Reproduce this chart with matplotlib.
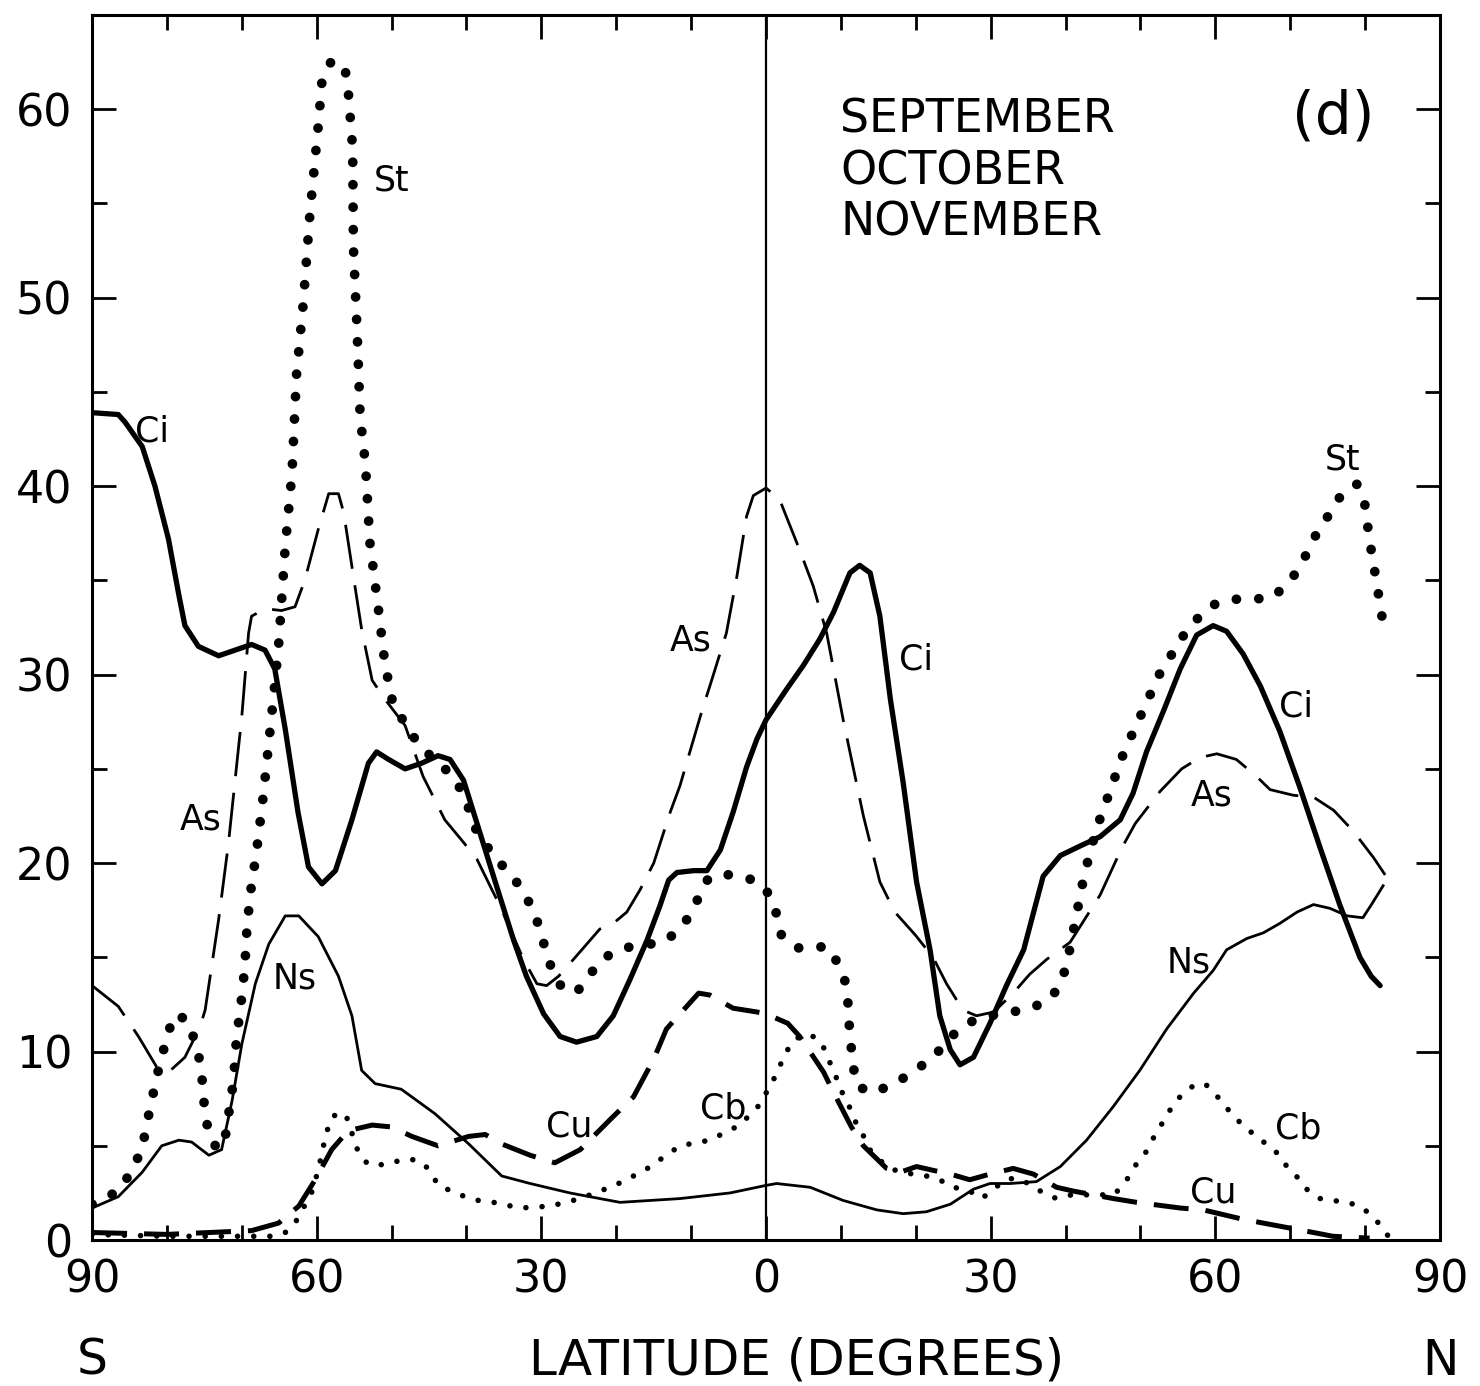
import numpy as np
import matplotlib.pyplot as plt
from matplotlib.ticker import MultipleLocator, FuncFormatter

# (latitude, percent); south latitudes negative
ci_points = [
    (-90, 43.9), (-86.5, 43.8), (-85.6, 43.4), (-83.3, 42.1), (-81.6, 40.0), (-79.8, 37.2),
    (-78.4, 34.2), (-77.6, 32.6), (-75.8, 31.5), (-73.1, 31.0), (-70.9, 31.3), (-68.7, 31.6),
    (-66.9, 31.3), (-65.6, 30.3), (-64.2, 27.1), (-62.5, 22.7), (-61.1, 19.8), (-59.3, 18.9),
    (-57.5, 19.6), (-55.3, 22.3), (-53.1, 25.3), (-52.0, 25.9), (-50.4, 25.5), (-48.2, 25.0),
    (-46.0, 25.3), (-43.8, 25.7), (-42.2, 25.5), (-40.4, 24.4), (-38.2, 21.6), (-36.0, 18.8),
    (-33.7, 15.9), (-32.0, 14.0), (-29.7, 12.0), (-27.5, 10.8), (-25.3, 10.5), (-22.6, 10.8),
    (-20.4, 11.9), (-18.2, 13.8), (-15.9, 15.9), (-14.2, 17.7), (-13.0, 19.1), (-11.9, 19.5),
    (-9.7, 19.6), (-7.9, 19.6), (-6.1, 20.7), (-4.4, 22.7), (-2.6, 25.1), (-1.2, 26.6),
    (0, 27.6), (2.7, 29.2), (5.0, 30.5), (7.2, 31.9), (9.0, 33.3), (11.2, 35.4), (12.5, 35.8),
    (13.9, 35.4), (15.2, 33.1), (16.6, 28.7), (18.3, 24.3), (20.1, 19.0), (21.9, 15.4),
    (23.2, 11.9), (24.6, 10.1), (25.9, 9.3), (27.7, 9.7), (29.9, 11.5), (32.1, 13.5),
    (34.4, 15.4), (37.0, 19.3), (39.3, 20.4), (41.9, 20.9), (44.6, 21.4), (47.3, 22.3),
    (49.0, 23.7), (50.8, 25.9), (53.1, 28.1), (55.3, 30.3), (57.5, 32.1), (59.7, 32.6),
    (61.5, 32.3), (63.7, 31.1), (66.0, 29.4), (68.6, 27.0), (71.3, 24.0), (74.0, 20.8),
    (76.6, 17.8), (79.3, 15.0), (80.8, 14.0), (82.0, 13.5),
]

as_points = [
    (-90, 13.5), (-86.5, 12.4), (-83.8, 10.8), (-81.4, 9.2), (-79.8, 8.9), (-77.6, 9.7),
    (-75.6, 11.3), (-74.9, 12.2), (-73.1, 17.0), (-71.8, 21.0), (-70.0, 27.8), (-69.1, 32.2),
    (-68.7, 33.1), (-66.9, 33.5), (-64.7, 33.4), (-62.9, 33.6), (-61.6, 35.0), (-59.8, 37.7),
    (-58.4, 39.6), (-57.1, 39.6), (-56.4, 38.6), (-54.9, 34.7), (-54.0, 32.4), (-52.6, 29.7),
    (-50.9, 28.7), (-48.2, 27.3), (-45.8, 24.6), (-42.9, 22.3), (-40.4, 21.1), (-38.6, 20.2),
    (-35.5, 17.7), (-32.4, 14.9), (-30.6, 13.6), (-29.3, 13.5), (-27.7, 14.0), (-25.7, 14.9),
    (-22.2, 16.5), (-20.4, 16.8), (-18.6, 17.4), (-16.8, 18.6), (-15.0, 20.0), (-12.8, 22.7),
    (-11.5, 24.1), (-10.1, 26.0), (-8.4, 28.3), (-7.5, 29.4), (-5.3, 32.2), (-3.9, 35.2),
    (-2.6, 38.4), (-1.7, 39.5), (0, 39.9), (1.8, 39.3), (4.5, 36.6), (6.3, 34.7), (8.1, 32.2),
    (10.3, 27.6), (13.0, 22.5), (15.2, 19.0), (17.2, 17.4), (19.9, 16.2), (22.3, 15.0),
    (24.1, 13.6), (26.3, 12.2), (28.1, 11.9), (30.4, 12.1), (33.0, 13.1), (35.2, 14.1),
    (37.5, 14.9), (40.6, 15.8), (44.6, 18.3), (47.5, 20.8), (49.3, 22.1), (52.6, 23.8),
    (55.5, 25.0), (57.9, 25.6), (60.2, 25.8), (62.8, 25.5), (65.5, 24.6), (67.3, 23.9),
    (70.4, 23.6), (73.1, 23.5), (75.8, 22.8), (78.4, 21.7), (81.1, 20.3), (83.3, 19.0),
]

st_points = [
    (-90, 1.9), (-87.8, 2.3), (-86.0, 2.8), (-84.5, 3.9), (-83.3, 4.8), (-82.8, 6.0),
    (-82.0, 7.4), (-81.6, 8.3), (-80.5, 10.0), (-79.8, 11.1), (-78.7, 12.0), (-77.2, 11.6),
    (-76.5, 10.8), (-75.8, 9.9), (-75.3, 8.5), (-74.9, 6.6), (-74.4, 5.7), (-73.3, 4.8),
    (-72.2, 5.5), (-71.6, 7.1), (-71.1, 8.5), (-70.7, 10.8), (-70.2, 12.2), (-69.6, 14.5),
    (-69.3, 16.7), (-68.7, 18.9), (-68.1, 20.4), (-67.1, 23.7), (-65.8, 28.7), (-65.1, 31.5),
    (-64.2, 36.8), (-63.3, 40.7), (-62.7, 45.9), (-61.8, 49.7), (-60.9, 54.5), (-59.8, 59.1),
    (-59.3, 61.5), (-58.0, 62.6), (-56.2, 62.1), (-55.8, 61.0), (-55.2, 57.9), (-55.1, 52.7),
    (-54.6, 48.2), (-54.2, 43.7), (-53.5, 41.2), (-52.9, 37.0), (-51.8, 33.6), (-50.9, 30.6),
    (-49.8, 28.4), (-46.9, 26.6), (-45.1, 25.8), (-42.6, 24.9), (-40.9, 24.0), (-39.7, 22.9),
    (-38.9, 21.9), (-37.3, 20.9), (-35.5, 20.0), (-33.5, 19.1), (-32.0, 18.2), (-30.8, 17.2),
    (-29.9, 16.1), (-29.3, 15.1), (-28.4, 14.2), (-27.0, 13.2), (-25.0, 13.3), (-23.5, 14.1),
    (-21.9, 14.9), (-19.7, 15.4), (-17.7, 15.6), (-15.5, 15.7), (-13.3, 15.9), (-11.3, 16.6),
    (-9.9, 17.4), (-9.0, 18.2), (-7.7, 19.2), (-5.5, 19.4), (-3.3, 19.3), (-1.0, 19.0),
    (0.5, 18.3), (1.4, 17.3), (2.1, 16.1), (4.3, 15.5), (6.3, 15.6), (8.5, 15.5), (9.4, 14.8),
    (10.0, 14.2), (10.5, 13.8), (10.9, 12.9), (11.0, 11.9), (11.2, 11.0), (11.4, 10.1),
    (11.7, 9.1), (12.1, 8.2), (14.1, 7.8), (16.6, 8.2), (18.8, 8.7), (20.6, 9.2), (22.3, 9.7),
    (25.5, 11.1), (27.5, 11.6), (29.9, 11.9), (32.8, 12.1), (35.5, 12.3), (38.2, 12.9),
    (39.5, 13.8), (40.2, 14.7), (42.5, 19.4), (44.1, 21.8), (46.0, 23.9), (47.8, 25.9),
    (50.0, 27.8), (52.5, 30.0), (55.6, 32.0), (57.4, 32.9), (59.7, 33.7), (62.3, 34.0),
    (65.0, 34.0), (67.7, 34.1), (69.5, 34.8), (71.2, 35.6), (73.1, 37.2), (75.5, 38.7),
    (76.9, 39.6), (78.9, 40.1), (79.9, 39.2), (80.6, 37.1), (81.4, 35.2), (82.2, 33.2),
    (82.6, 32.1),
]

ns_points = [
    (-90, 1.7), (-86.5, 2.3), (-83.3, 3.6), (-80.7, 5.0), (-78.4, 5.3), (-76.7, 5.2),
    (-74.4, 4.5), (-72.7, 4.8), (-71.3, 7.4), (-70.0, 10.4), (-68.2, 13.6), (-66.4, 15.7),
    (-64.2, 17.2), (-62.4, 17.2), (-59.8, 16.1), (-57.1, 14.0), (-55.3, 11.9), (-54.0, 9.0),
    (-52.2, 8.3), (-48.7, 8.0), (-44.2, 6.7), (-39.7, 5.1), (-35.3, 3.4), (-31.5, 3.0),
    (-26.2, 2.5), (-19.5, 2.0), (-11.5, 2.2), (-4.8, 2.5), (0, 2.9), (1.4, 3.0), (5.9, 2.8),
    (10.3, 2.1), (14.8, 1.6), (18.3, 1.4), (21.4, 1.5), (24.6, 1.9), (27.7, 2.7), (29.9, 3.0),
    (32.6, 3.0), (36.1, 3.1), (39.3, 3.9), (42.8, 5.3), (46.4, 7.1), (49.9, 9.0), (53.5, 11.2),
    (57.1, 13.1), (59.7, 14.3), (61.5, 15.4), (64.2, 16.0), (66.4, 16.3), (68.6, 16.8),
    (70.9, 17.4), (73.1, 17.8), (75.3, 17.6), (77.6, 17.2), (79.7, 17.1), (81.0, 17.9),
    (82.4, 18.8),
]

cu_points = [
    (-90, 0.4), (-80, 0.3), (-68.7, 0.5), (-65.1, 0.9), (-62.4, 1.8), (-60.2, 3.2),
    (-58.0, 4.8), (-55.8, 5.8), (-52.6, 6.1), (-50.0, 6.0), (-47.3, 5.5), (-43.8, 5.0),
    (-39.7, 5.5), (-37.5, 5.6), (-35.3, 5.1), (-31.5, 4.5), (-28.2, 4.1), (-24.8, 4.8),
    (-20.8, 6.4), (-17.7, 7.6), (-15.0, 9.6), (-13.3, 11.2), (-11.5, 12.0), (-9.0, 13.1),
    (-7.5, 13.0), (-4.4, 12.3), (-1.2, 12.1), (0, 12.0), (2.9, 11.5), (4.5, 10.8), (7.7, 8.9),
    (8.8, 8.0), (11.4, 6.0), (13.0, 5.0), (16.1, 3.8), (17.9, 3.6), (20.1, 3.9), (22.3, 3.7),
    (24.6, 3.5), (27.2, 3.2), (29.9, 3.5), (33.0, 3.8), (35.7, 3.5), (38.8, 2.8), (41.0, 2.6),
    (43.7, 2.4), (46.4, 2.2), (49.5, 2.0), (55.3, 1.7), (58.4, 1.6), (63.7, 1.1), (66.4, 0.9),
    (73.1, 0.4), (75.7, 0.2), (80.6, 0.1),
]

cb_points = [
    (-90, 0.3), (-80, 0.2), (-70, 0.2), (-66, 0.2), (-64.2, 0.4), (-62.9, 0.9), (-60.7, 2.5),
    (-59.8, 3.7), (-59.1, 5.0), (-58.7, 5.7), (-58.0, 6.5), (-56.9, 6.8), (-55.8, 6.4),
    (-54.9, 5.1), (-54.2, 4.5), (-53.1, 4.0), (-50.9, 4.0), (-49.1, 4.2), (-47.5, 4.3),
    (-45.8, 4.1), (-44.6, 3.5), (-43.8, 2.9), (-42.0, 2.6), (-40.2, 2.3), (-38.4, 2.1),
    (-36.4, 2.0), (-32.8, 1.7), (-28.8, 1.8), (-24.8, 2.2), (-20.2, 2.9), (-16.2, 3.7),
    (-11.5, 5.0), (-7.5, 5.3), (-3.5, 6.1), (-0.8, 7.2), (0, 7.8), (0.8, 8.3), (1.6, 9.1),
    (2.5, 9.7), (3.2, 10.4), (4.5, 10.8), (5.9, 10.9), (7.4, 10.5), (8.1, 9.8), (9.0, 9.0),
    (9.6, 8.4), (10.3, 7.7), (11.0, 7.2), (11.9, 6.3), (12.8, 5.8), (13.4, 5.0), (14.3, 4.6),
    (16.1, 3.9), (17.9, 3.6), (19.7, 3.5), (21.4, 3.4), (23.2, 3.2), (24.8, 2.8), (26.8, 2.7),
    (28.8, 2.2), (30.4, 2.7), (31.9, 3.2), (33.5, 3.3), (35.5, 2.9), (37.0, 2.5), (38.8, 2.2),
    (40.8, 2.4), (42.8, 2.4), (44.6, 2.4), (46.4, 2.4), (47.7, 2.9), (48.8, 3.6), (49.7, 4.2),
    (50.8, 4.7), (51.7, 5.4), (52.6, 6.0), (53.5, 6.6), (54.4, 7.2), (55.5, 7.7), (57.1, 8.2),
    (58.6, 8.3), (59.9, 7.8), (61.1, 7.2), (62.4, 6.6), (63.9, 6.0), (65.5, 5.5), (67.1, 5.0),
    (68.6, 4.5), (69.7, 3.8), (71.3, 3.2), (72.4, 2.6), (74.0, 2.2), (75.7, 2.1), (77.6, 2.0),
    (79.3, 1.8), (80.9, 1.3), (82.0, 0.8), (83.1, 0.2),
]

# label text, latitude, value
curve_labels = [
    ("Ci", -82.0, 42.9), ("St", -50.0, 56.2), ("As", -75.5, 22.3), ("Ns", -63.0, 13.9),
    ("Cu", -26.3, 6.0), ("Cb", -5.7, 7.0), ("As", -10.0, 31.8), ("Ci", 20.0, 30.8),
    ("Ci", 70.8, 28.3), ("As", 59.5, 23.6), ("St", 77.0, 41.4), ("Ns", 56.5, 14.7),
    ("Cb", 71.0, 5.9), ("Cu", 59.7, 2.5),
]


def unzip(points):
    lat = [p[0] for p in points]
    val = [p[1] for p in points]
    return lat, val


def main():
    fig = plt.figure(figsize=(14.8, 13.86), dpi=100)
    ax = fig.add_axes([0.0622, 0.1053, 0.9108, 0.8839])

    ax.plot(*unzip(ci_points), color='black', lw=3.8, solid_capstyle='round',
            solid_joinstyle='round')
    ax.plot(*unzip(ns_points), color='black', lw=2.0, solid_joinstyle='round')
    ax.plot(*unzip(as_points), color='black', lw=2.0, linestyle=(0, (16, 6)))
    ax.plot(*unzip(cu_points), color='black', lw=3.6, linestyle=(0, (7, 3.4)))
    ax.plot(*unzip(st_points), color='black', lw=7, linestyle=(0, (0.01, 2.3)),
            dash_capstyle='round')
    ax.plot(*unzip(cb_points), color='black', lw=4, linestyle=(0, (0.01, 2.9)),
            dash_capstyle='round')
    ax.axvline(0, color='black', lw=1.6)

    for text, x, y in curve_labels:
        ax.text(x, y, text, fontsize=25, ha='center', va='center')

    ax.text(9.9, 60.6, "SEPTEMBER\nOCTOBER\nNOVEMBER", fontsize=33, ha='left', va='top',
            linespacing=1.18)
    ax.text(81.3, 59.6, "(d)", fontsize=42, ha='right', va='center')

    ax.set_xlim(-90, 90)
    ax.set_ylim(0, 65)
    ax.xaxis.set_major_locator(MultipleLocator(30))
    ax.xaxis.set_minor_locator(MultipleLocator(10))
    ax.yaxis.set_major_locator(MultipleLocator(10))
    ax.yaxis.set_minor_locator(MultipleLocator(5))
    ax.xaxis.set_major_formatter(FuncFormatter(lambda v, p: f"{abs(int(round(v)))}"))
    ax.tick_params(which='both', direction='in', top=True, right=True, width=2,
                   labelsize=32)
    ax.tick_params(which='major', length=17)
    ax.tick_params(which='minor', length=11)
    ax.tick_params(axis='x', pad=13)
    ax.tick_params(axis='y', pad=14)
    for sp in ax.spines.values():
        sp.set_linewidth(2.2)

    fig.text(0.5385, 0.008, "LATITUDE (DEGREES)", fontsize=36, ha='center', va='baseline')
    fig.text(0.0622, 0.008, "S", fontsize=35, ha='center', va='baseline')
    fig.text(0.973, 0.008, "N", fontsize=35, ha='center', va='baseline')

    fig.savefig('out.png', dpi=100)


if __name__ == '__main__':
    main()
